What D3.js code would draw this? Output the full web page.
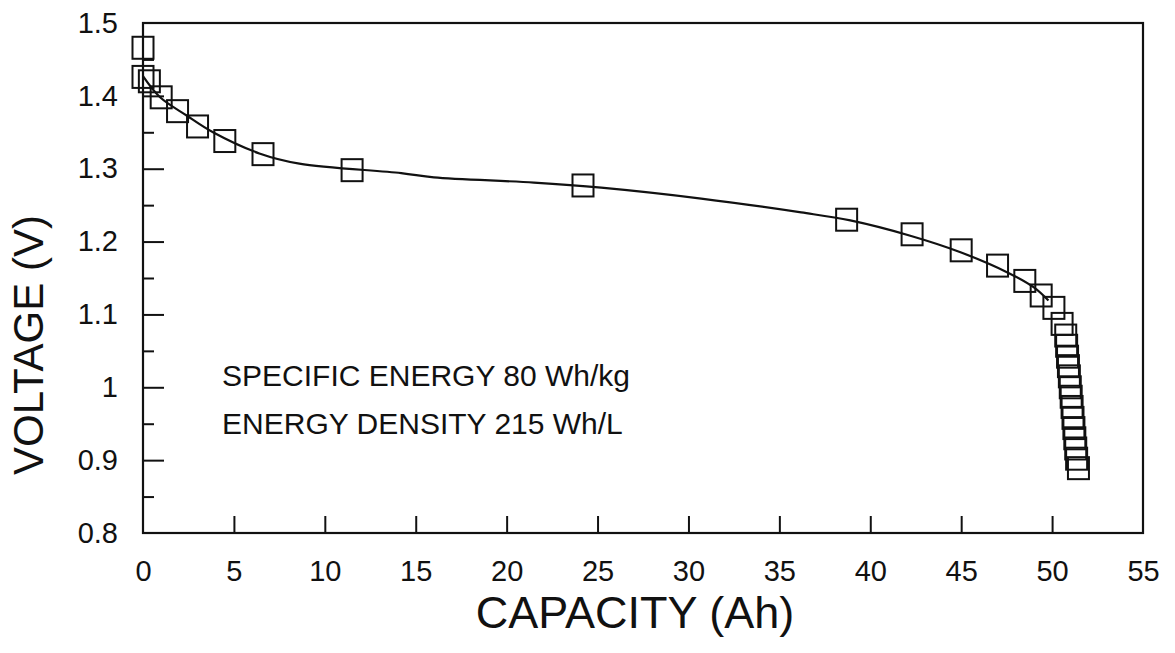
<!DOCTYPE html>
<html>
<head>
<meta charset="utf-8">
<script src="https://cdn.jsdelivr.net/npm/d3@7"></script>
<style>
  body { margin: 0; background: #fff; }
  svg { display: block; }
  text { font-family: "Liberation Sans", Arial, sans-serif; fill: #111; }
</style>
</head>
<body>
<div class="chart"></div>
<script>
// measured discharge points (capacity Ah, voltage V) - the open squares
var capacity = [0, 0, 0.35, 1.0, 1.9, 3.0, 4.5, 6.6, 11.5, 24.2,
  38.7, 42.3, 45.0, 47.0, 48.5, 49.4, 50.1, 50.55,
  50.75, 50.8, 50.85, 50.9, 50.95, 51.0, 51.05, 51.1, 51.15, 51.2, 51.25, 51.3, 51.35, 51.45];
var voltage = [1.466, 1.426, 1.420, 1.398, 1.379, 1.358, 1.338, 1.320, 1.298, 1.277,
  1.230, 1.210, 1.188, 1.167, 1.146, 1.126, 1.109, 1.087,
  1.071, 1.057, 1.042, 1.029, 1.015, 1.000, 0.987, 0.973, 0.958, 0.944, 0.930, 0.916, 0.902, 0.889];

// fitted curve
var fitCapacity = [0, 0.94, 2.4, 3.85, 6.4, 8.6, 14.2, 16.0, 21.5, 25.2, 30.7, 36.2, 38.9, 42.2, 45.0, 47.6, 49.0, 49.8];
var fitVoltage = [1.427, 1.398, 1.373, 1.350, 1.321, 1.307, 1.294, 1.288, 1.281, 1.274, 1.259, 1.240, 1.229, 1.208, 1.185, 1.157, 1.137, 1.119];

// tick values
var xLabels = [0, 5, 10, 15, 20, 25, 30, 35, 40, 45, 50, 55];
var xTicks = [5, 10, 15, 20, 25, 30, 35, 40, 45, 50];
var yLabels = [0.8, 0.9, 1, 1.1, 1.2, 1.3, 1.4, 1.5];
var yMajor = [0.9, 1.0, 1.1, 1.2, 1.3, 1.4];
var yMinor = [0.85, 0.95, 1.05, 1.15, 1.25, 1.35, 1.45];

var notes = ["SPECIFIC ENERGY 80 Wh/kg", "ENERGY DENSITY 215 Wh/L"];

var svgWidth = 1175;
var svgHeight = 653;

var svg = d3.select(".chart")
  .append("svg")
  .attr("width", svgWidth)
  .attr("height", svgHeight);

var x = d3.scaleLinear().domain([0, 55]).range([143, 1143]);
var y = d3.scaleLinear().domain([0.8, 1.5]).range([533, 23]);

// ticks pointing into the plot
svg.append("g")
  .attr("transform", `translate(0, ${y(0.8)})`)
  .call(d3.axisBottom(x).tickValues(xTicks).tickFormat("").tickSizeInner(-17).tickSizeOuter(0));
svg.append("g")
  .attr("transform", `translate(${x(0)}, 0)`)
  .call(d3.axisLeft(y).tickValues(yMajor).tickFormat("").tickSizeInner(-21).tickSizeOuter(0));
svg.append("g")
  .attr("transform", `translate(${x(0)}, 0)`)
  .call(d3.axisLeft(y).tickValues(yMinor).tickFormat("").tickSizeInner(-11).tickSizeOuter(0));

// tick labels
var xLab = svg.append("g")
  .attr("transform", `translate(0, ${y(0.8)})`)
  .call(d3.axisBottom(x).tickValues(xLabels).tickFormat(d3.format("d")).tickSize(0).tickPadding(27));
xLab.selectAll("text").style("font-size", "29px");

var yLab = svg.append("g")
  .attr("transform", `translate(${x(0)}, 0)`)
  .call(d3.axisLeft(y).tickValues(yLabels).tickFormat(d => d == 1 ? "1" : d3.format(".1f")(d)).tickSize(0).tickPadding(25));
yLab.selectAll("text").style("font-size", "29px");

svg.selectAll(".domain").remove();
svg.selectAll(".tick line").attr("stroke", "#111").attr("stroke-width", 2);
svg.selectAll(".tick text").attr("fill", "#111").attr("font-family", "Liberation Sans, Arial, sans-serif");

// frame
svg.append("rect")
  .attr("x", x(0))
  .attr("y", y(1.5))
  .attr("width", x(55) - x(0))
  .attr("height", y(0.8) - y(1.5))
  .attr("fill", "none")
  .attr("stroke", "#111")
  .attr("stroke-width", 2.2);

// fitted line
var fit = fitCapacity.map((c, i) => [c, fitVoltage[i]]);
var line = d3.line()
  .x(d => x(d[0]))
  .y(d => y(d[1]))
  .curve(d3.curveCatmullRom);
svg.append("path")
  .datum(fit)
  .attr("d", line)
  .attr("fill", "none")
  .attr("stroke", "#111")
  .attr("stroke-width", 2.2);

// square markers
var pts = capacity.map((c, i) => ({ c: c, v: voltage[i] }));
svg.selectAll("rect.pt")
  .data(pts)
  .enter()
  .append("rect")
  .attr("class", "pt")
  .attr("x", d => x(d.c) - 10.5)
  .attr("y", d => y(d.v) - 11)
  .attr("width", 21)
  .attr("height", 22)
  .attr("fill", "none")
  .attr("stroke", "#111")
  .attr("stroke-width", 2);

// annotation
svg.selectAll("text.note")
  .data(notes)
  .enter()
  .append("text")
  .attr("class", "note")
  .attr("x", x(4.35))
  .attr("y", (d, i) => y(1.002) + i * 48)
  .style("font-size", "30px")
  .text(d => d);

// axis titles
svg.append("text")
  .attr("x", 635)
  .attr("y", 628)
  .attr("text-anchor", "middle")
  .style("font-size", "45px")
  .text("CAPACITY (Ah)");

svg.append("text")
  .attr("transform", "translate(43, 345) rotate(-90)")
  .attr("text-anchor", "middle")
  .style("font-size", "42px")
  .text("VOLTAGE (V)");
</script>
</body>
</html>
